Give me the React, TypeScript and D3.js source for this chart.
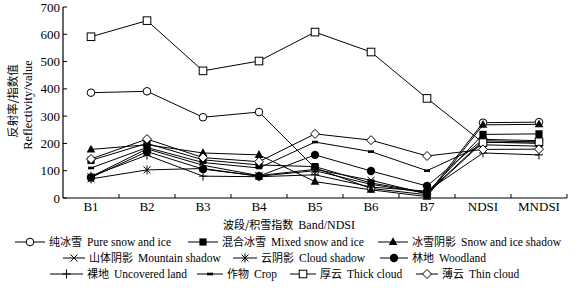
import React from "react";
import * as d3 from "d3";

const categories = ["B1", "B2", "B3", "B4", "B5", "B6", "B7", "NDSI", "MNDSI"];
const yTicks = [0, 100, 200, 300, 400, 500, 600, 700];

const pureSnow = [386, 391, 296, 315, 110, 35, 12, 276, 278];
const mixedSnow = [138, 200, 140, 121, 115, 55, 20, 233, 235];
const snowShadow = [178, 195, 165, 158, 60, 30, 5, 268, 270];
const mountainShadow = [78, 180, 120, 82, 105, 65, 15, 205, 200];
const cloudShadow = [70, 103, 108, 80, 100, 50, 18, 210, 205];
const woodland = [75, 170, 106, 80, 158, 99, 44, 215, 210];
const uncoveredLand = [80, 157, 80, 78, 85, 40, 25, 165, 158];
const crop = [110, 185, 130, 110, 205, 170, 100, 195, 190];
const thickCloud = [591, 650, 466, 502, 608, 535, 365, 203, 206];
const thinCloud = [143, 216, 148, 133, 235, 212, 154, 178, 179];

const seriesNamesZh = ["纯冰雪", "混合冰雪", "冰雪阴影", "山体阴影", "云阴影", "林地", "裸地", "作物", "厚云", "薄云"];
const seriesNamesEn = ["Pure snow and ice", "Mixed snow and ice", "Snow and ice shadow", "Mountain shadow", "Cloud shadow", "Woodland", "Uncovered land", "Crop", "Thick cloud", "Thin cloud"];
const seriesMarkers = ["circleOpen", "squareFilled", "triangleFilled", "xMark", "asterisk", "circleFilled", "plus", "dash", "squareOpen", "diamondOpen"];
const seriesValues = [pureSnow, mixedSnow, snowShadow, mountainShadow, cloudShadow, woodland, uncoveredLand, crop, thickCloud, thinCloud];

// legend layout: [row, x start of line sample, sample length]
const legendLayout = [
  [0, 15, 30], [0, 188, 30], [0, 378, 30],
  [1, 63, 22], [1, 233, 24], [1, 380, 28],
  [2, 50, 33], [2, 197, 26], [2, 290, 26], [2, 416, 22],
];

const FONT = "'Liberation Serif', 'Times New Roman', 'Noto Sans CJK SC', serif";
const CJK = "'Noto Sans CJK SC', sans-serif";

function Marker({ type, x, y }: { type: string; x: number; y: number }) {
  const s = "#000";
  switch (type) {
    case "circleOpen":
      return <circle cx={x} cy={y} r={3.8} fill="#fff" stroke={s} strokeWidth={1} />;
    case "circleFilled":
      return <circle cx={x} cy={y} r={4.2} fill={s} />;
    case "squareFilled":
      return <rect x={x - 3.6} y={y - 3.6} width={7.2} height={7.2} fill={s} />;
    case "squareOpen":
      return <rect x={x - 3.8} y={y - 3.8} width={7.6} height={7.6} fill="#fff" stroke={s} strokeWidth={1} />;
    case "triangleFilled":
      return <path d={`M${x},${y - 4.8}L${x + 4.3},${y + 3}L${x - 4.3},${y + 3}Z`} fill={s} />;
    case "diamondOpen":
      return <path d={`M${x},${y - 4.5}L${x + 4.5},${y}L${x},${y + 4.5}L${x - 4.5},${y}Z`} fill="#fff" stroke={s} strokeWidth={1} />;
    case "xMark":
      return (
        <g stroke={s} strokeWidth={1}>
          <line x1={x - 3.5} y1={y - 3.5} x2={x + 3.5} y2={y + 3.5} />
          <line x1={x - 3.5} y1={y + 3.5} x2={x + 3.5} y2={y - 3.5} />
        </g>
      );
    case "asterisk":
      return (
        <g stroke={s} strokeWidth={1}>
          <line x1={x - 3.5} y1={y - 3.5} x2={x + 3.5} y2={y + 3.5} />
          <line x1={x - 3.5} y1={y + 3.5} x2={x + 3.5} y2={y - 3.5} />
          <line x1={x} y1={y - 4.5} x2={x} y2={y + 4.5} />
        </g>
      );
    case "plus":
      return (
        <g stroke={s} strokeWidth={1}>
          <line x1={x} y1={y - 4.5} x2={x} y2={y + 4.5} />
          <line x1={x - 4} y1={y} x2={x + 4} y2={y} />
        </g>
      );
    case "dash":
      return <rect x={x - 3} y={y - 1.3} width={6} height={2.6} fill={s} />;
    default:
      return null;
  }
}

export default function App() {
  const W = 579;
  const H = 290;
  const x0 = 63;
  const x1 = 567;
  const yBottom = 198;
  const yTop = 7;

  const x = d3.scaleBand<string>().domain(categories).range([x0, x1]).padding(0);
  const y = d3.scaleLinear().domain([0, 700]).range([yBottom, yTop]);
  const cx = (c: string) => (x(c) as number) + x.bandwidth() / 2;

  const line = d3
    .line<number>()
    .x((_, i) => cx(categories[i]))
    .y((d) => y(d));

  const rowY = [242, 258, 274];

  return (
    <svg width={W} height={H} style={{ position: "absolute", left: 0, top: 0, background: "#fff" }} fontFamily={FONT}>
      <rect x={0} y={0} width={W} height={H} fill="#fff" />
      {/* axes */}
      <line x1={x0} y1={yBottom} x2={x1} y2={yBottom} stroke="#000" strokeWidth={1.2} />
      <line x1={x0} y1={yBottom} x2={x0} y2={yTop} stroke="#000" strokeWidth={1.2} />
      {categories.map((c) => (
        <line key={"xt" + c} x1={(x(c) as number) + x.bandwidth()} x2={(x(c) as number) + x.bandwidth()} y1={yBottom} y2={yBottom - 4} stroke="#000" strokeWidth={1} />
      ))}
      {yTicks.map((t) => (
        <g key={"yt" + t}>
          <line x1={x0} x2={x0 + 4} y1={y(t)} y2={y(t)} stroke="#000" strokeWidth={1} />
          <text x={x0 - 3} y={y(t) + 4.5} textAnchor="end" fontSize={13}>
            {t}
          </text>
        </g>
      ))}
      {categories.map((c) => (
        <text key={"xl" + c} x={cx(c)} y={211} textAnchor="middle" fontSize={13}>
          {c}
        </text>
      ))}
      {/* axis titles */}
      <text x={223} y={229} fontSize={12}>
        <tspan fontFamily={CJK} fontSize={11}>波段/积雪指数</tspan>
        <tspan dx={5}>Band/NDSI</tspan>
      </text>
      <text transform="translate(17,101) rotate(-90)" textAnchor="middle" fontSize={11.5} fontFamily={CJK}>
        反射率/指数值
      </text>
      <text transform="translate(32,105) rotate(-90)" textAnchor="middle" fontSize={12.5}>
        Reflectivity/value
      </text>
      {/* lines */}
      {seriesValues.map((vals, i) => (
        <path key={"l" + i} d={line(vals) as string} fill="none" stroke="#000" strokeWidth={1} />
      ))}
      {/* markers */}
      {seriesValues.map((vals, i) => (
        <g key={"m" + i}>
          {vals.map((v, j) => (
            <Marker key={j} type={seriesMarkers[i]} x={cx(categories[j])} y={y(v)} />
          ))}
        </g>
      ))}
      {/* legend */}
      {legendLayout.map(([row, lx, len], i) => {
        const ly = rowY[row];
        return (
          <g key={"lg" + i}>
            <line x1={lx} x2={lx + len} y1={ly} y2={ly} stroke="#000" strokeWidth={1} />
            <Marker type={seriesMarkers[i]} x={lx + len / 2} y={ly} />
            <text x={lx + len + 4} y={ly + 4} fontSize={11.5}>
              <tspan fontFamily={CJK} fontSize={11}>{seriesNamesZh[i]}</tspan>
              <tspan dx={5}>{seriesNamesEn[i]}</tspan>
            </text>
          </g>
        );
      })}
    </svg>
  );
}
